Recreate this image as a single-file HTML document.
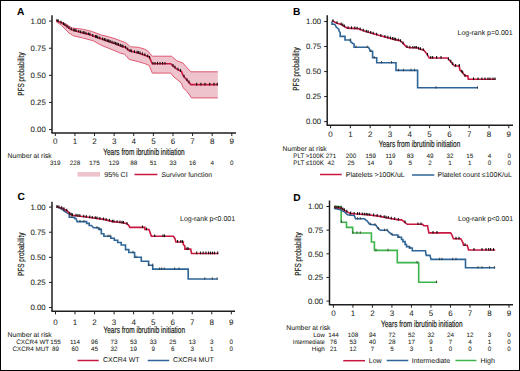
<!DOCTYPE html><html><head><meta charset="utf-8"><style>html,body{margin:0;padding:0;background:#fff;}svg{display:block;text-rendering:geometricPrecision;}</style></head><body>
<svg width="520" height="371" viewBox="0 0 520 371" font-family='"Liberation Sans", sans-serif'>
<rect x="0" y="0" width="520" height="371" fill="#fff"/>
<polygon points="56.20,20.30 64.40,23.20 72.10,28.00 83.70,29.40 91.30,31.30 101.70,35.10 108.50,36.70 115.20,38.80 120.60,40.80 125.80,42.70 130.40,46.70 138.40,47.30 144.20,49.00 147.70,50.80 152.30,56.20 171.50,56.20 176.90,60.80 183.00,63.10 186.20,66.90 190.80,71.80 217.80,71.80 217.80,97.90 191.50,97.90 187.00,91.40 183.00,87.70 181.50,83.10 173.80,76.90 170.80,73.10 152.30,73.10 149.20,65.40 144.20,63.40 138.40,61.70 129.20,59.40 124.60,54.20 120.60,53.30 115.20,50.90 108.50,48.20 101.70,45.50 93.30,40.80 83.70,38.20 74.00,36.00 69.20,33.20 61.50,25.30 56.20,21.70" fill="#eec3cb" stroke="none"/>
<polyline points="56.20,20.30 64.40,23.20 72.10,28.00 83.70,29.40 91.30,31.30 101.70,35.10 108.50,36.70 115.20,38.80 120.60,40.80 125.80,42.70 130.40,46.70 138.40,47.30 144.20,49.00 147.70,50.80 152.30,56.20 171.50,56.20 176.90,60.80 183.00,63.10 186.20,66.90 190.80,71.80 217.80,71.80" fill="none" stroke="#dc4a66" stroke-width="0.9" stroke-linejoin="miter"/>
<polyline points="56.20,21.70 61.50,25.30 69.20,33.20 74.00,36.00 83.70,38.20 93.30,40.80 101.70,45.50 108.50,48.20 115.20,50.90 120.60,53.30 124.60,54.20 129.20,59.40 138.40,61.70 144.20,63.40 149.20,65.40 152.30,73.10 170.80,73.10 173.80,76.90 181.50,83.10 183.00,87.70 187.00,91.40 191.50,97.90 217.80,97.90" fill="none" stroke="#dc4a66" stroke-width="0.9" stroke-linejoin="miter"/>
<polyline points="56.20,20.40 61.90,23.10 65.40,25.40 70.00,28.90 72.30,30.00 80.40,32.30 89.60,34.60 95.00,36.70 101.70,39.00 108.50,41.40 115.20,43.70 122.00,46.40 125.00,47.10 129.20,50.80 136.10,52.50 140.00,53.40 149.20,56.90 152.30,63.80 170.80,63.80 172.30,65.40 176.90,69.20 181.50,71.50 183.00,75.40 186.20,79.20 190.80,84.60 217.70,84.60" fill="none" stroke="#c8163f" stroke-width="1.6" stroke-linejoin="miter"/>
<line x1="57.00" y1="18.88" x2="57.00" y2="21.58" stroke="#111" stroke-width="1.1"/>
<line x1="58.27" y1="19.48" x2="58.27" y2="22.18" stroke="#111" stroke-width="1.1"/>
<line x1="60.96" y1="20.76" x2="60.96" y2="23.46" stroke="#111" stroke-width="1.1"/>
<line x1="63.49" y1="22.25" x2="63.49" y2="24.95" stroke="#111" stroke-width="1.1"/>
<line x1="65.00" y1="23.24" x2="65.00" y2="25.94" stroke="#111" stroke-width="1.1"/>
<line x1="66.99" y1="24.71" x2="66.99" y2="27.41" stroke="#111" stroke-width="1.1"/>
<line x1="68.89" y1="26.16" x2="68.89" y2="28.86" stroke="#111" stroke-width="1.1"/>
<line x1="71.19" y1="27.57" x2="71.19" y2="30.27" stroke="#111" stroke-width="1.1"/>
<line x1="73.77" y1="28.52" x2="73.77" y2="31.22" stroke="#111" stroke-width="1.1"/>
<line x1="74.96" y1="28.86" x2="74.96" y2="31.56" stroke="#111" stroke-width="1.1"/>
<line x1="76.02" y1="29.16" x2="76.02" y2="31.86" stroke="#111" stroke-width="1.1"/>
<line x1="78.69" y1="29.91" x2="78.69" y2="32.61" stroke="#111" stroke-width="1.1"/>
<line x1="80.55" y1="30.44" x2="80.55" y2="33.14" stroke="#111" stroke-width="1.1"/>
<line x1="83.08" y1="31.07" x2="83.08" y2="33.77" stroke="#111" stroke-width="1.1"/>
<line x1="84.08" y1="31.32" x2="84.08" y2="34.02" stroke="#111" stroke-width="1.1"/>
<line x1="85.97" y1="31.79" x2="85.97" y2="34.49" stroke="#111" stroke-width="1.1"/>
<line x1="88.42" y1="32.40" x2="88.42" y2="35.10" stroke="#111" stroke-width="1.1"/>
<line x1="89.87" y1="32.81" x2="89.87" y2="35.51" stroke="#111" stroke-width="1.1"/>
<line x1="92.76" y1="33.93" x2="92.76" y2="36.63" stroke="#111" stroke-width="1.1"/>
<line x1="95.57" y1="34.99" x2="95.57" y2="37.69" stroke="#111" stroke-width="1.1"/>
<line x1="96.63" y1="35.36" x2="96.63" y2="38.06" stroke="#111" stroke-width="1.1"/>
<line x1="97.68" y1="35.72" x2="97.68" y2="38.42" stroke="#111" stroke-width="1.1"/>
<line x1="99.76" y1="36.43" x2="99.76" y2="39.13" stroke="#111" stroke-width="1.1"/>
<line x1="102.64" y1="37.43" x2="102.64" y2="40.13" stroke="#111" stroke-width="1.1"/>
<line x1="104.40" y1="38.05" x2="104.40" y2="40.75" stroke="#111" stroke-width="1.1"/>
<line x1="105.84" y1="38.56" x2="105.84" y2="41.26" stroke="#111" stroke-width="1.1"/>
<line x1="107.68" y1="39.21" x2="107.68" y2="41.91" stroke="#111" stroke-width="1.1"/>
<line x1="108.74" y1="39.58" x2="108.74" y2="42.28" stroke="#111" stroke-width="1.1"/>
<line x1="110.18" y1="40.08" x2="110.18" y2="42.78" stroke="#111" stroke-width="1.1"/>
<line x1="112.06" y1="40.72" x2="112.06" y2="43.42" stroke="#111" stroke-width="1.1"/>
<line x1="114.05" y1="41.40" x2="114.05" y2="44.10" stroke="#111" stroke-width="1.1"/>
<line x1="115.51" y1="41.93" x2="115.51" y2="44.63" stroke="#111" stroke-width="1.1"/>
<line x1="116.98" y1="42.51" x2="116.98" y2="45.21" stroke="#111" stroke-width="1.1"/>
<line x1="118.41" y1="43.08" x2="118.41" y2="45.78" stroke="#111" stroke-width="1.1"/>
<line x1="120.33" y1="43.84" x2="120.33" y2="46.54" stroke="#111" stroke-width="1.1"/>
<line x1="121.91" y1="44.47" x2="121.91" y2="47.17" stroke="#111" stroke-width="1.1"/>
<line x1="122.96" y1="44.72" x2="122.96" y2="47.42" stroke="#111" stroke-width="1.1"/>
<line x1="125.63" y1="45.76" x2="125.63" y2="48.46" stroke="#111" stroke-width="1.1"/>
<line x1="127.74" y1="47.62" x2="127.74" y2="50.32" stroke="#111" stroke-width="1.1"/>
<line x1="130.03" y1="49.10" x2="130.03" y2="51.80" stroke="#111" stroke-width="1.1"/>
<line x1="131.40" y1="49.44" x2="131.40" y2="52.14" stroke="#111" stroke-width="1.1"/>
<line x1="134.39" y1="50.18" x2="134.39" y2="52.88" stroke="#111" stroke-width="1.1"/>
<line x1="137.11" y1="50.83" x2="137.11" y2="53.53" stroke="#111" stroke-width="1.1"/>
<line x1="138.35" y1="51.12" x2="138.35" y2="53.82" stroke="#111" stroke-width="1.1"/>
<line x1="140.01" y1="51.50" x2="140.01" y2="54.20" stroke="#111" stroke-width="1.1"/>
<line x1="142.46" y1="52.43" x2="142.46" y2="55.13" stroke="#111" stroke-width="1.1"/>
<line x1="144.88" y1="53.36" x2="144.88" y2="56.06" stroke="#111" stroke-width="1.1"/>
<line x1="147.75" y1="54.45" x2="147.75" y2="57.15" stroke="#111" stroke-width="1.1"/>
<line x1="149.59" y1="55.88" x2="149.59" y2="58.58" stroke="#111" stroke-width="1.1"/>
<line x1="153.00" y1="61.90" x2="153.00" y2="64.60" stroke="#111" stroke-width="1.1"/>
<line x1="155.00" y1="61.90" x2="155.00" y2="64.60" stroke="#111" stroke-width="1.1"/>
<line x1="157.50" y1="61.90" x2="157.50" y2="64.60" stroke="#111" stroke-width="1.1"/>
<line x1="160.00" y1="61.90" x2="160.00" y2="64.60" stroke="#111" stroke-width="1.1"/>
<line x1="162.50" y1="61.90" x2="162.50" y2="64.60" stroke="#111" stroke-width="1.1"/>
<line x1="165.00" y1="61.90" x2="165.00" y2="64.60" stroke="#111" stroke-width="1.1"/>
<line x1="173.00" y1="64.08" x2="173.00" y2="66.78" stroke="#111" stroke-width="1.1"/>
<line x1="175.00" y1="65.73" x2="175.00" y2="68.43" stroke="#111" stroke-width="1.1"/>
<line x1="178.00" y1="67.85" x2="178.00" y2="70.55" stroke="#111" stroke-width="1.1"/>
<line x1="180.50" y1="69.10" x2="180.50" y2="71.80" stroke="#111" stroke-width="1.1"/>
<line x1="184.00" y1="74.69" x2="184.00" y2="77.39" stroke="#111" stroke-width="1.1"/>
<line x1="187.00" y1="78.24" x2="187.00" y2="80.94" stroke="#111" stroke-width="1.1"/>
<line x1="189.00" y1="80.59" x2="189.00" y2="83.29" stroke="#111" stroke-width="1.1"/>
<line x1="196.60" y1="82.70" x2="196.60" y2="85.40" stroke="#111" stroke-width="1.1"/>
<line x1="200.90" y1="82.70" x2="200.90" y2="85.40" stroke="#111" stroke-width="1.1"/>
<line x1="205.00" y1="82.70" x2="205.00" y2="85.40" stroke="#111" stroke-width="1.1"/>
<line x1="209.70" y1="82.70" x2="209.70" y2="85.40" stroke="#111" stroke-width="1.1"/>
<line x1="214.00" y1="82.70" x2="214.00" y2="85.40" stroke="#111" stroke-width="1.1"/>
<line x1="217.30" y1="82.70" x2="217.30" y2="85.40" stroke="#111" stroke-width="1.1"/>
<text x="17.00" y="15.10" font-size="10.2" text-anchor="start" font-weight="bold" fill="#000" stroke="#000" stroke-width="0.05" >A</text>
<line x1="52" y1="15.2" x2="52" y2="133" stroke="#1e1e1e" stroke-width="1.5"/>
<line x1="51.4" y1="133" x2="236" y2="133" stroke="#1e1e1e" stroke-width="1.5"/>
<line x1="49" y1="21.10" x2="52" y2="21.10" stroke="#1e1e1e" stroke-width="1"/>
<text x="45.80" y="23.90" font-size="7.8" text-anchor="end" font-weight="normal" fill="#231f20" stroke="#231f20" stroke-width="0.05" >1.00</text>
<line x1="49" y1="48.23" x2="52" y2="48.23" stroke="#1e1e1e" stroke-width="1"/>
<text x="45.80" y="51.02" font-size="7.8" text-anchor="end" font-weight="normal" fill="#231f20" stroke="#231f20" stroke-width="0.05" >0.75</text>
<line x1="49" y1="75.35" x2="52" y2="75.35" stroke="#1e1e1e" stroke-width="1"/>
<text x="45.80" y="78.15" font-size="7.8" text-anchor="end" font-weight="normal" fill="#231f20" stroke="#231f20" stroke-width="0.05" >0.50</text>
<line x1="49" y1="102.47" x2="52" y2="102.47" stroke="#1e1e1e" stroke-width="1"/>
<text x="45.80" y="105.27" font-size="7.8" text-anchor="end" font-weight="normal" fill="#231f20" stroke="#231f20" stroke-width="0.05" >0.25</text>
<line x1="49" y1="129.60" x2="52" y2="129.60" stroke="#1e1e1e" stroke-width="1"/>
<text x="45.80" y="132.40" font-size="7.8" text-anchor="end" font-weight="normal" fill="#231f20" stroke="#231f20" stroke-width="0.05" >0.00</text>
<line x1="55.30" y1="133" x2="55.30" y2="136" stroke="#1e1e1e" stroke-width="1"/>
<text x="55.30" y="144.30" font-size="8.0" text-anchor="middle" font-weight="normal" fill="#231f20" stroke="#231f20" stroke-width="0.05" >0</text>
<line x1="74.91" y1="133" x2="74.91" y2="136" stroke="#1e1e1e" stroke-width="1"/>
<text x="74.91" y="144.30" font-size="8.0" text-anchor="middle" font-weight="normal" fill="#231f20" stroke="#231f20" stroke-width="0.05" >1</text>
<line x1="94.52" y1="133" x2="94.52" y2="136" stroke="#1e1e1e" stroke-width="1"/>
<text x="94.52" y="144.30" font-size="8.0" text-anchor="middle" font-weight="normal" fill="#231f20" stroke="#231f20" stroke-width="0.05" >2</text>
<line x1="114.13" y1="133" x2="114.13" y2="136" stroke="#1e1e1e" stroke-width="1"/>
<text x="114.13" y="144.30" font-size="8.0" text-anchor="middle" font-weight="normal" fill="#231f20" stroke="#231f20" stroke-width="0.05" >3</text>
<line x1="133.74" y1="133" x2="133.74" y2="136" stroke="#1e1e1e" stroke-width="1"/>
<text x="133.74" y="144.30" font-size="8.0" text-anchor="middle" font-weight="normal" fill="#231f20" stroke="#231f20" stroke-width="0.05" >4</text>
<line x1="153.36" y1="133" x2="153.36" y2="136" stroke="#1e1e1e" stroke-width="1"/>
<text x="153.36" y="144.30" font-size="8.0" text-anchor="middle" font-weight="normal" fill="#231f20" stroke="#231f20" stroke-width="0.05" >5</text>
<line x1="172.97" y1="133" x2="172.97" y2="136" stroke="#1e1e1e" stroke-width="1"/>
<text x="172.97" y="144.30" font-size="8.0" text-anchor="middle" font-weight="normal" fill="#231f20" stroke="#231f20" stroke-width="0.05" >6</text>
<line x1="192.58" y1="133" x2="192.58" y2="136" stroke="#1e1e1e" stroke-width="1"/>
<text x="192.58" y="144.30" font-size="8.0" text-anchor="middle" font-weight="normal" fill="#231f20" stroke="#231f20" stroke-width="0.05" >7</text>
<line x1="212.19" y1="133" x2="212.19" y2="136" stroke="#1e1e1e" stroke-width="1"/>
<text x="212.19" y="144.30" font-size="8.0" text-anchor="middle" font-weight="normal" fill="#231f20" stroke="#231f20" stroke-width="0.05" >8</text>
<line x1="231.80" y1="133" x2="231.80" y2="136" stroke="#1e1e1e" stroke-width="1"/>
<text x="231.80" y="144.30" font-size="8.0" text-anchor="middle" font-weight="normal" fill="#231f20" stroke="#231f20" stroke-width="0.05" >9</text>
<text transform="translate(23.8,74) rotate(-90)" x="0" y="0" font-size="8.8" text-anchor="middle" fill="#231f20" stroke="#231f20" stroke-width="0.2" textLength="43.5" lengthAdjust="spacingAndGlyphs">PFS probability</text>
<text x="103.2" y="155.1" font-size="9.2" font-weight="normal" fill="#231f20" stroke="#231f20" stroke-width="0.22" textLength="81.5" lengthAdjust="spacingAndGlyphs">Years from ibrutinib initiation</text>
<text x="7.50" y="158.10" font-size="6.8" text-anchor="start" font-weight="normal" fill="#231f20" stroke="#231f20" stroke-width="0.05" >Number at risk</text>
<text x="55.30" y="165.20" font-size="6.3" text-anchor="middle" font-weight="normal" fill="#231f20" stroke="#231f20" stroke-width="0.05" >319</text>
<text x="74.91" y="165.20" font-size="6.3" text-anchor="middle" font-weight="normal" fill="#231f20" stroke="#231f20" stroke-width="0.05" >228</text>
<text x="94.52" y="165.20" font-size="6.3" text-anchor="middle" font-weight="normal" fill="#231f20" stroke="#231f20" stroke-width="0.05" >175</text>
<text x="114.13" y="165.20" font-size="6.3" text-anchor="middle" font-weight="normal" fill="#231f20" stroke="#231f20" stroke-width="0.05" >129</text>
<text x="133.74" y="165.20" font-size="6.3" text-anchor="middle" font-weight="normal" fill="#231f20" stroke="#231f20" stroke-width="0.05" >88</text>
<text x="153.36" y="165.20" font-size="6.3" text-anchor="middle" font-weight="normal" fill="#231f20" stroke="#231f20" stroke-width="0.05" >51</text>
<text x="172.97" y="165.20" font-size="6.3" text-anchor="middle" font-weight="normal" fill="#231f20" stroke="#231f20" stroke-width="0.05" >33</text>
<text x="192.58" y="165.20" font-size="6.3" text-anchor="middle" font-weight="normal" fill="#231f20" stroke="#231f20" stroke-width="0.05" >16</text>
<text x="212.19" y="165.20" font-size="6.3" text-anchor="middle" font-weight="normal" fill="#231f20" stroke="#231f20" stroke-width="0.05" >4</text>
<text x="231.80" y="165.20" font-size="6.3" text-anchor="middle" font-weight="normal" fill="#231f20" stroke="#231f20" stroke-width="0.05" >0</text>
<rect x="77.5" y="172" width="22.5" height="4.6" fill="#eec3cb"/>
<text x="104.20" y="176.90" font-size="7.2" text-anchor="start" font-weight="normal" fill="#231f20" stroke="#231f20" stroke-width="0.05" >95% CI</text>
<line x1="134.5" y1="174.5" x2="157.4" y2="174.5" stroke="#c8163f" stroke-width="1.5"/>
<text x="161.40" y="176.90" font-size="6.8" text-anchor="start" font-weight="normal" fill="#231f20" stroke="#231f20" stroke-width="0.05" >Survivor function</text>
<polyline points="332.00,21.50 332.00,24.20 334.70,24.20 336.20,26.90 337.30,28.00 338.90,29.30 338.90,30.60 340.20,32.90 340.20,36.40 345.00,36.40 345.00,40.00 350.50,40.00 350.50,41.60 352.50,43.20 354.10,43.90 354.10,47.30 368.50,47.30 369.50,49.00 370.20,51.20 372.60,51.20 372.60,57.80 376.70,57.80 376.70,62.70 396.00,62.70 396.00,70.40 417.60,70.40 417.60,87.80 478.00,87.80" fill="none" stroke="#2e6598" stroke-width="1.6" stroke-linejoin="miter"/>
<polyline points="331.90,20.60 336.90,23.20 341.40,24.60 347.30,28.10 357.70,28.60 365.10,31.30 378.80,35.30 395.00,39.60 399.80,40.60 401.70,42.00 404.10,44.40 406.50,47.10 410.40,47.80 417.10,47.80 419.00,48.80 423.80,50.20 426.70,53.60 429.20,58.00 448.00,58.00 448.50,59.40 449.90,60.80 451.30,62.30 452.70,64.20 454.60,66.00 459.30,66.00 459.80,69.80 461.20,71.20 462.60,72.60 464.00,74.50 465.00,75.90 467.80,75.90 468.30,79.30 495.50,79.30" fill="none" stroke="#c8163f" stroke-width="1.6" stroke-linejoin="miter"/>
<line x1="333.00" y1="19.27" x2="333.00" y2="21.97" stroke="#111" stroke-width="1.1"/>
<line x1="337.08" y1="21.36" x2="337.08" y2="24.06" stroke="#111" stroke-width="1.1"/>
<line x1="341.13" y1="22.62" x2="341.13" y2="25.32" stroke="#111" stroke-width="1.1"/>
<line x1="342.69" y1="23.46" x2="342.69" y2="26.16" stroke="#111" stroke-width="1.1"/>
<line x1="344.33" y1="24.44" x2="344.33" y2="27.14" stroke="#111" stroke-width="1.1"/>
<line x1="348.07" y1="26.24" x2="348.07" y2="28.94" stroke="#111" stroke-width="1.1"/>
<line x1="351.53" y1="26.40" x2="351.53" y2="29.10" stroke="#111" stroke-width="1.1"/>
<line x1="354.80" y1="26.56" x2="354.80" y2="29.26" stroke="#111" stroke-width="1.1"/>
<line x1="357.06" y1="26.67" x2="357.06" y2="29.37" stroke="#111" stroke-width="1.1"/>
<line x1="360.16" y1="27.60" x2="360.16" y2="30.30" stroke="#111" stroke-width="1.1"/>
<line x1="363.26" y1="28.73" x2="363.26" y2="31.43" stroke="#111" stroke-width="1.1"/>
<line x1="366.29" y1="29.75" x2="366.29" y2="32.45" stroke="#111" stroke-width="1.1"/>
<line x1="368.13" y1="30.29" x2="368.13" y2="32.99" stroke="#111" stroke-width="1.1"/>
<line x1="370.74" y1="31.05" x2="370.74" y2="33.75" stroke="#111" stroke-width="1.1"/>
<line x1="373.24" y1="31.78" x2="373.24" y2="34.48" stroke="#111" stroke-width="1.1"/>
<line x1="376.66" y1="32.78" x2="376.66" y2="35.48" stroke="#111" stroke-width="1.1"/>
<line x1="380.85" y1="33.94" x2="380.85" y2="36.64" stroke="#111" stroke-width="1.1"/>
<line x1="384.91" y1="35.02" x2="384.91" y2="37.72" stroke="#111" stroke-width="1.1"/>
<line x1="387.83" y1="35.80" x2="387.83" y2="38.50" stroke="#111" stroke-width="1.1"/>
<line x1="390.48" y1="36.50" x2="390.48" y2="39.20" stroke="#111" stroke-width="1.1"/>
<line x1="392.63" y1="37.07" x2="392.63" y2="39.77" stroke="#111" stroke-width="1.1"/>
<line x1="394.13" y1="37.47" x2="394.13" y2="40.17" stroke="#111" stroke-width="1.1"/>
<line x1="395.61" y1="37.83" x2="395.61" y2="40.53" stroke="#111" stroke-width="1.1"/>
<line x1="398.31" y1="38.39" x2="398.31" y2="41.09" stroke="#111" stroke-width="1.1"/>
<line x1="400.60" y1="39.29" x2="400.60" y2="41.99" stroke="#111" stroke-width="1.1"/>
<line x1="403.06" y1="41.46" x2="403.06" y2="44.16" stroke="#111" stroke-width="1.1"/>
<line x1="406.96" y1="45.28" x2="406.96" y2="47.98" stroke="#111" stroke-width="1.1"/>
<line x1="409.83" y1="45.80" x2="409.83" y2="48.50" stroke="#111" stroke-width="1.1"/>
<line x1="412.80" y1="45.90" x2="412.80" y2="48.60" stroke="#111" stroke-width="1.1"/>
<line x1="414.86" y1="45.90" x2="414.86" y2="48.60" stroke="#111" stroke-width="1.1"/>
<line x1="416.33" y1="45.90" x2="416.33" y2="48.60" stroke="#111" stroke-width="1.1"/>
<line x1="418.64" y1="46.71" x2="418.64" y2="49.41" stroke="#111" stroke-width="1.1"/>
<line x1="420.42" y1="47.31" x2="420.42" y2="50.01" stroke="#111" stroke-width="1.1"/>
<line x1="423.25" y1="48.14" x2="423.25" y2="50.84" stroke="#111" stroke-width="1.1"/>
<line x1="427.45" y1="53.02" x2="427.45" y2="55.72" stroke="#111" stroke-width="1.1"/>
<line x1="430.74" y1="56.10" x2="430.74" y2="58.80" stroke="#111" stroke-width="1.1"/>
<line x1="432.65" y1="56.10" x2="432.65" y2="58.80" stroke="#111" stroke-width="1.1"/>
<line x1="436.55" y1="56.10" x2="436.55" y2="58.80" stroke="#111" stroke-width="1.1"/>
<line x1="441.00" y1="56.10" x2="441.00" y2="58.80" stroke="#111" stroke-width="1.1"/>
<line x1="448.50" y1="57.50" x2="448.50" y2="60.20" stroke="#111" stroke-width="1.1"/>
<line x1="450.80" y1="59.86" x2="450.80" y2="62.56" stroke="#111" stroke-width="1.1"/>
<line x1="452.70" y1="62.30" x2="452.70" y2="65.00" stroke="#111" stroke-width="1.1"/>
<line x1="455.60" y1="64.10" x2="455.60" y2="66.80" stroke="#111" stroke-width="1.1"/>
<line x1="459.30" y1="64.10" x2="459.30" y2="66.80" stroke="#111" stroke-width="1.1"/>
<line x1="461.70" y1="69.80" x2="461.70" y2="72.50" stroke="#111" stroke-width="1.1"/>
<line x1="462.60" y1="70.70" x2="462.60" y2="73.40" stroke="#111" stroke-width="1.1"/>
<line x1="465.00" y1="74.00" x2="465.00" y2="76.70" stroke="#111" stroke-width="1.1"/>
<line x1="473.50" y1="77.40" x2="473.50" y2="80.10" stroke="#111" stroke-width="1.1"/>
<line x1="478.00" y1="77.40" x2="478.00" y2="80.10" stroke="#111" stroke-width="1.1"/>
<line x1="482.00" y1="77.40" x2="482.00" y2="80.10" stroke="#111" stroke-width="1.1"/>
<line x1="485.00" y1="77.40" x2="485.00" y2="80.10" stroke="#111" stroke-width="1.1"/>
<line x1="488.00" y1="77.40" x2="488.00" y2="80.10" stroke="#111" stroke-width="1.1"/>
<line x1="490.00" y1="77.40" x2="490.00" y2="80.10" stroke="#111" stroke-width="1.1"/>
<line x1="493.00" y1="77.40" x2="493.00" y2="80.10" stroke="#111" stroke-width="1.1"/>
<line x1="495.00" y1="77.40" x2="495.00" y2="80.10" stroke="#111" stroke-width="1.1"/>
<line x1="350.30" y1="38.30" x2="350.30" y2="40.80" stroke="#333" stroke-width="0.8"/>
<line x1="356.00" y1="45.60" x2="356.00" y2="48.10" stroke="#333" stroke-width="0.8"/>
<line x1="367.30" y1="45.60" x2="367.30" y2="48.10" stroke="#333" stroke-width="0.8"/>
<line x1="371.00" y1="49.50" x2="371.00" y2="52.00" stroke="#333" stroke-width="0.8"/>
<line x1="374.20" y1="56.10" x2="374.20" y2="58.60" stroke="#333" stroke-width="0.8"/>
<line x1="381.50" y1="61.00" x2="381.50" y2="63.50" stroke="#333" stroke-width="0.8"/>
<line x1="391.50" y1="61.00" x2="391.50" y2="63.50" stroke="#333" stroke-width="0.8"/>
<line x1="398.50" y1="68.70" x2="398.50" y2="71.20" stroke="#333" stroke-width="0.8"/>
<line x1="403.50" y1="68.70" x2="403.50" y2="71.20" stroke="#333" stroke-width="0.8"/>
<line x1="411.00" y1="68.70" x2="411.00" y2="71.20" stroke="#333" stroke-width="0.8"/>
<line x1="414.50" y1="68.70" x2="414.50" y2="71.20" stroke="#333" stroke-width="0.8"/>
<line x1="436.00" y1="86.10" x2="436.00" y2="88.60" stroke="#333" stroke-width="0.8"/>
<line x1="477.50" y1="86.10" x2="477.50" y2="88.60" stroke="#333" stroke-width="0.8"/>
<text x="293.00" y="15.20" font-size="10.2" text-anchor="start" font-weight="bold" fill="#000" stroke="#000" stroke-width="0.05" >B</text>
<line x1="327.2" y1="15.2" x2="327.2" y2="125.2" stroke="#1e1e1e" stroke-width="1.5"/>
<line x1="326.59999999999997" y1="125.2" x2="513" y2="125.2" stroke="#1e1e1e" stroke-width="1.5"/>
<line x1="324.2" y1="21.50" x2="327.2" y2="21.50" stroke="#1e1e1e" stroke-width="1"/>
<text x="321.10" y="24.30" font-size="7.8" text-anchor="end" font-weight="normal" fill="#231f20" stroke="#231f20" stroke-width="0.05" >1.00</text>
<line x1="324.2" y1="46.52" x2="327.2" y2="46.52" stroke="#1e1e1e" stroke-width="1"/>
<text x="321.10" y="49.32" font-size="7.8" text-anchor="end" font-weight="normal" fill="#231f20" stroke="#231f20" stroke-width="0.05" >0.75</text>
<line x1="324.2" y1="71.55" x2="327.2" y2="71.55" stroke="#1e1e1e" stroke-width="1"/>
<text x="321.10" y="74.35" font-size="7.8" text-anchor="end" font-weight="normal" fill="#231f20" stroke="#231f20" stroke-width="0.05" >0.50</text>
<line x1="324.2" y1="96.57" x2="327.2" y2="96.57" stroke="#1e1e1e" stroke-width="1"/>
<text x="321.10" y="99.37" font-size="7.8" text-anchor="end" font-weight="normal" fill="#231f20" stroke="#231f20" stroke-width="0.05" >0.25</text>
<line x1="324.2" y1="121.60" x2="327.2" y2="121.60" stroke="#1e1e1e" stroke-width="1"/>
<text x="321.10" y="124.40" font-size="7.8" text-anchor="end" font-weight="normal" fill="#231f20" stroke="#231f20" stroke-width="0.05" >0.00</text>
<line x1="330.60" y1="125.2" x2="330.60" y2="128.2" stroke="#1e1e1e" stroke-width="1"/>
<text x="330.60" y="136.50" font-size="8.0" text-anchor="middle" font-weight="normal" fill="#231f20" stroke="#231f20" stroke-width="0.05" >0</text>
<line x1="350.40" y1="125.2" x2="350.40" y2="128.2" stroke="#1e1e1e" stroke-width="1"/>
<text x="350.40" y="136.50" font-size="8.0" text-anchor="middle" font-weight="normal" fill="#231f20" stroke="#231f20" stroke-width="0.05" >1</text>
<line x1="370.20" y1="125.2" x2="370.20" y2="128.2" stroke="#1e1e1e" stroke-width="1"/>
<text x="370.20" y="136.50" font-size="8.0" text-anchor="middle" font-weight="normal" fill="#231f20" stroke="#231f20" stroke-width="0.05" >2</text>
<line x1="390.00" y1="125.2" x2="390.00" y2="128.2" stroke="#1e1e1e" stroke-width="1"/>
<text x="390.00" y="136.50" font-size="8.0" text-anchor="middle" font-weight="normal" fill="#231f20" stroke="#231f20" stroke-width="0.05" >3</text>
<line x1="409.80" y1="125.2" x2="409.80" y2="128.2" stroke="#1e1e1e" stroke-width="1"/>
<text x="409.80" y="136.50" font-size="8.0" text-anchor="middle" font-weight="normal" fill="#231f20" stroke="#231f20" stroke-width="0.05" >4</text>
<line x1="429.60" y1="125.2" x2="429.60" y2="128.2" stroke="#1e1e1e" stroke-width="1"/>
<text x="429.60" y="136.50" font-size="8.0" text-anchor="middle" font-weight="normal" fill="#231f20" stroke="#231f20" stroke-width="0.05" >5</text>
<line x1="449.40" y1="125.2" x2="449.40" y2="128.2" stroke="#1e1e1e" stroke-width="1"/>
<text x="449.40" y="136.50" font-size="8.0" text-anchor="middle" font-weight="normal" fill="#231f20" stroke="#231f20" stroke-width="0.05" >6</text>
<line x1="469.20" y1="125.2" x2="469.20" y2="128.2" stroke="#1e1e1e" stroke-width="1"/>
<text x="469.20" y="136.50" font-size="8.0" text-anchor="middle" font-weight="normal" fill="#231f20" stroke="#231f20" stroke-width="0.05" >7</text>
<line x1="489.00" y1="125.2" x2="489.00" y2="128.2" stroke="#1e1e1e" stroke-width="1"/>
<text x="489.00" y="136.50" font-size="8.0" text-anchor="middle" font-weight="normal" fill="#231f20" stroke="#231f20" stroke-width="0.05" >8</text>
<line x1="508.80" y1="125.2" x2="508.80" y2="128.2" stroke="#1e1e1e" stroke-width="1"/>
<text x="508.80" y="136.50" font-size="8.0" text-anchor="middle" font-weight="normal" fill="#231f20" stroke="#231f20" stroke-width="0.05" >9</text>
<text transform="translate(299.2,69) rotate(-90)" x="0" y="0" font-size="8.8" text-anchor="middle" fill="#231f20" stroke="#231f20" stroke-width="0.2" textLength="43.5" lengthAdjust="spacingAndGlyphs">PFS probability</text>
<text x="457.50" y="35.20" font-size="7" text-anchor="start" font-weight="normal" fill="#231f20" stroke="#231f20" stroke-width="0.05" >Log-rank p=0.001</text>
<text x="378.75" y="147.3" font-size="9.2" font-weight="normal" fill="#231f20" stroke="#231f20" stroke-width="0.22" textLength="81.5" lengthAdjust="spacingAndGlyphs">Years from ibrutinib initiation</text>
<text x="282.50" y="151.00" font-size="6.8" text-anchor="start" font-weight="normal" fill="#231f20" stroke="#231f20" stroke-width="0.05" >Number at risk</text>
<text x="323.80" y="158.30" font-size="6.4" text-anchor="end" font-weight="normal" fill="#231f20" stroke="#231f20" stroke-width="0.05" textLength="30.5" lengthAdjust="spacingAndGlyphs">PLT &gt;100K</text>
<text x="323.80" y="165.30" font-size="6.4" text-anchor="end" font-weight="normal" fill="#231f20" stroke="#231f20" stroke-width="0.05" textLength="30.5" lengthAdjust="spacingAndGlyphs">PLT ≤100K</text>
<text x="331.10" y="158.30" font-size="6.3" text-anchor="middle" font-weight="normal" fill="#231f20" stroke="#231f20" stroke-width="0.05" >271</text>
<text x="350.90" y="158.30" font-size="6.3" text-anchor="middle" font-weight="normal" fill="#231f20" stroke="#231f20" stroke-width="0.05" >200</text>
<text x="370.70" y="158.30" font-size="6.3" text-anchor="middle" font-weight="normal" fill="#231f20" stroke="#231f20" stroke-width="0.05" >159</text>
<text x="390.50" y="158.30" font-size="6.3" text-anchor="middle" font-weight="normal" fill="#231f20" stroke="#231f20" stroke-width="0.05" >119</text>
<text x="410.30" y="158.30" font-size="6.3" text-anchor="middle" font-weight="normal" fill="#231f20" stroke="#231f20" stroke-width="0.05" >83</text>
<text x="430.10" y="158.30" font-size="6.3" text-anchor="middle" font-weight="normal" fill="#231f20" stroke="#231f20" stroke-width="0.05" >49</text>
<text x="449.90" y="158.30" font-size="6.3" text-anchor="middle" font-weight="normal" fill="#231f20" stroke="#231f20" stroke-width="0.05" >32</text>
<text x="469.70" y="158.30" font-size="6.3" text-anchor="middle" font-weight="normal" fill="#231f20" stroke="#231f20" stroke-width="0.05" >15</text>
<text x="489.50" y="158.30" font-size="6.3" text-anchor="middle" font-weight="normal" fill="#231f20" stroke="#231f20" stroke-width="0.05" >4</text>
<text x="509.30" y="158.30" font-size="6.3" text-anchor="middle" font-weight="normal" fill="#231f20" stroke="#231f20" stroke-width="0.05" >0</text>
<text x="331.10" y="165.30" font-size="6.3" text-anchor="middle" font-weight="normal" fill="#231f20" stroke="#231f20" stroke-width="0.05" >42</text>
<text x="350.90" y="165.30" font-size="6.3" text-anchor="middle" font-weight="normal" fill="#231f20" stroke="#231f20" stroke-width="0.05" >25</text>
<text x="370.70" y="165.30" font-size="6.3" text-anchor="middle" font-weight="normal" fill="#231f20" stroke="#231f20" stroke-width="0.05" >14</text>
<text x="390.50" y="165.30" font-size="6.3" text-anchor="middle" font-weight="normal" fill="#231f20" stroke="#231f20" stroke-width="0.05" >9</text>
<text x="410.30" y="165.30" font-size="6.3" text-anchor="middle" font-weight="normal" fill="#231f20" stroke="#231f20" stroke-width="0.05" >5</text>
<text x="430.10" y="165.30" font-size="6.3" text-anchor="middle" font-weight="normal" fill="#231f20" stroke="#231f20" stroke-width="0.05" >2</text>
<text x="449.90" y="165.30" font-size="6.3" text-anchor="middle" font-weight="normal" fill="#231f20" stroke="#231f20" stroke-width="0.05" >1</text>
<text x="469.70" y="165.30" font-size="6.3" text-anchor="middle" font-weight="normal" fill="#231f20" stroke="#231f20" stroke-width="0.05" >1</text>
<text x="489.50" y="165.30" font-size="6.3" text-anchor="middle" font-weight="normal" fill="#231f20" stroke="#231f20" stroke-width="0.05" >0</text>
<text x="509.30" y="165.30" font-size="6.3" text-anchor="middle" font-weight="normal" fill="#231f20" stroke="#231f20" stroke-width="0.05" >0</text>
<line x1="320" y1="174.5" x2="341.75" y2="174.5" stroke="#c8163f" stroke-width="1.5"/>
<text x="345.75" y="177.00" font-size="7" text-anchor="start" font-weight="normal" fill="#231f20" stroke="#231f20" stroke-width="0.05" >Platelets &gt;100K/uL</text>
<line x1="412" y1="175" x2="434.25" y2="175" stroke="#2e6598" stroke-width="1.5"/>
<text x="437.50" y="177.00" font-size="7" text-anchor="start" font-weight="normal" fill="#231f20" stroke="#231f20" stroke-width="0.05" >Platelet count ≤100K/uL</text>
<polyline points="56.30,206.70 60.00,208.00 62.40,209.50 65.80,212.10 68.40,213.80 69.30,213.80 69.30,217.30 74.50,217.30 74.50,218.50 76.00,218.50 77.10,221.60 86.60,221.60 86.60,223.40 89.20,223.40 89.20,225.50 91.50,225.50 93.50,227.70 98.70,227.70 98.70,229.40 101.30,229.40 101.30,233.70 103.90,233.70 103.90,236.30 110.80,236.30 110.80,238.20 114.30,238.20 114.30,240.20 117.70,240.20 117.70,242.50 121.20,242.50 121.20,245.00 125.50,245.00 125.50,249.60 128.80,249.60 128.80,252.50 134.60,252.50 134.60,257.30 141.30,257.30 141.30,261.20 148.60,261.20 148.60,265.20 152.70,265.20 152.70,269.10 188.20,269.10 188.20,279.00 217.70,279.00" fill="none" stroke="#2e6598" stroke-width="1.6" stroke-linejoin="miter"/>
<polyline points="56.30,206.70 62.40,208.30 67.60,211.20 69.30,213.50 71.90,215.20 86.60,217.00 103.90,219.40 112.60,221.60 121.20,222.50 126.40,223.40 128.50,225.00 129.90,227.40 144.90,227.40 144.90,229.50 149.00,229.50 151.40,236.30 173.50,236.30 175.10,238.80 175.90,242.00 183.30,242.00 183.30,244.50 184.90,246.10 184.90,249.10 190.70,249.10 191.50,253.50 218.40,253.50" fill="none" stroke="#c8163f" stroke-width="1.6" stroke-linejoin="miter"/>
<line x1="57.00" y1="204.98" x2="57.00" y2="207.68" stroke="#111" stroke-width="1.1"/>
<line x1="58.92" y1="205.49" x2="58.92" y2="208.19" stroke="#111" stroke-width="1.1"/>
<line x1="61.63" y1="206.20" x2="61.63" y2="208.90" stroke="#111" stroke-width="1.1"/>
<line x1="63.90" y1="207.23" x2="63.90" y2="209.93" stroke="#111" stroke-width="1.1"/>
<line x1="66.77" y1="208.83" x2="66.77" y2="211.53" stroke="#111" stroke-width="1.1"/>
<line x1="69.69" y1="211.86" x2="69.69" y2="214.56" stroke="#111" stroke-width="1.1"/>
<line x1="71.16" y1="212.82" x2="71.16" y2="215.52" stroke="#111" stroke-width="1.1"/>
<line x1="72.50" y1="213.37" x2="72.50" y2="216.07" stroke="#111" stroke-width="1.1"/>
<line x1="75.97" y1="213.80" x2="75.97" y2="216.50" stroke="#111" stroke-width="1.1"/>
<line x1="77.95" y1="214.04" x2="77.95" y2="216.74" stroke="#111" stroke-width="1.1"/>
<line x1="79.86" y1="214.27" x2="79.86" y2="216.97" stroke="#111" stroke-width="1.1"/>
<line x1="83.75" y1="214.75" x2="83.75" y2="217.45" stroke="#111" stroke-width="1.1"/>
<line x1="86.27" y1="215.06" x2="86.27" y2="217.76" stroke="#111" stroke-width="1.1"/>
<line x1="89.74" y1="215.54" x2="89.74" y2="218.24" stroke="#111" stroke-width="1.1"/>
<line x1="92.28" y1="215.89" x2="92.28" y2="218.59" stroke="#111" stroke-width="1.1"/>
<line x1="95.24" y1="216.30" x2="95.24" y2="219.00" stroke="#111" stroke-width="1.1"/>
<line x1="96.94" y1="216.53" x2="96.94" y2="219.23" stroke="#111" stroke-width="1.1"/>
<line x1="99.89" y1="216.94" x2="99.89" y2="219.64" stroke="#111" stroke-width="1.1"/>
<line x1="103.44" y1="217.44" x2="103.44" y2="220.14" stroke="#111" stroke-width="1.1"/>
<line x1="106.10" y1="218.06" x2="106.10" y2="220.76" stroke="#111" stroke-width="1.1"/>
<line x1="109.33" y1="218.87" x2="109.33" y2="221.57" stroke="#111" stroke-width="1.1"/>
<line x1="112.38" y1="219.64" x2="112.38" y2="222.34" stroke="#111" stroke-width="1.1"/>
<line x1="113.84" y1="219.83" x2="113.84" y2="222.53" stroke="#111" stroke-width="1.1"/>
<line x1="117.11" y1="220.17" x2="117.11" y2="222.87" stroke="#111" stroke-width="1.1"/>
<line x1="119.95" y1="220.47" x2="119.95" y2="223.17" stroke="#111" stroke-width="1.1"/>
<line x1="122.03" y1="220.74" x2="122.03" y2="223.44" stroke="#111" stroke-width="1.1"/>
<line x1="123.42" y1="220.98" x2="123.42" y2="223.68" stroke="#111" stroke-width="1.1"/>
<line x1="126.97" y1="221.93" x2="126.97" y2="224.63" stroke="#111" stroke-width="1.1"/>
<line x1="142.50" y1="225.50" x2="142.50" y2="228.20" stroke="#111" stroke-width="1.1"/>
<line x1="146.50" y1="227.60" x2="146.50" y2="230.30" stroke="#111" stroke-width="1.1"/>
<line x1="154.70" y1="234.40" x2="154.70" y2="237.10" stroke="#111" stroke-width="1.1"/>
<line x1="163.00" y1="234.40" x2="163.00" y2="237.10" stroke="#111" stroke-width="1.1"/>
<line x1="164.50" y1="234.40" x2="164.50" y2="237.10" stroke="#111" stroke-width="1.1"/>
<line x1="177.60" y1="240.10" x2="177.60" y2="242.80" stroke="#111" stroke-width="1.1"/>
<line x1="180.80" y1="240.10" x2="180.80" y2="242.80" stroke="#111" stroke-width="1.1"/>
<line x1="182.50" y1="240.10" x2="182.50" y2="242.80" stroke="#111" stroke-width="1.1"/>
<line x1="187.00" y1="247.20" x2="187.00" y2="249.90" stroke="#111" stroke-width="1.1"/>
<line x1="188.10" y1="247.20" x2="188.10" y2="249.90" stroke="#111" stroke-width="1.1"/>
<line x1="196.70" y1="251.60" x2="196.70" y2="254.30" stroke="#111" stroke-width="1.1"/>
<line x1="200.50" y1="251.60" x2="200.50" y2="254.30" stroke="#111" stroke-width="1.1"/>
<line x1="203.20" y1="251.60" x2="203.20" y2="254.30" stroke="#111" stroke-width="1.1"/>
<line x1="205.90" y1="251.60" x2="205.90" y2="254.30" stroke="#111" stroke-width="1.1"/>
<line x1="208.60" y1="251.60" x2="208.60" y2="254.30" stroke="#111" stroke-width="1.1"/>
<line x1="210.50" y1="251.60" x2="210.50" y2="254.30" stroke="#111" stroke-width="1.1"/>
<line x1="212.50" y1="251.60" x2="212.50" y2="254.30" stroke="#111" stroke-width="1.1"/>
<line x1="214.50" y1="251.60" x2="214.50" y2="254.30" stroke="#111" stroke-width="1.1"/>
<line x1="217.70" y1="251.60" x2="217.70" y2="254.30" stroke="#111" stroke-width="1.1"/>
<line x1="58.00" y1="205.60" x2="58.00" y2="208.10" stroke="#333" stroke-width="0.8"/>
<line x1="61.00" y1="206.93" x2="61.00" y2="209.43" stroke="#333" stroke-width="0.8"/>
<line x1="64.00" y1="209.02" x2="64.00" y2="211.52" stroke="#333" stroke-width="0.8"/>
<line x1="72.00" y1="215.60" x2="72.00" y2="218.10" stroke="#333" stroke-width="0.8"/>
<line x1="80.00" y1="219.90" x2="80.00" y2="222.40" stroke="#333" stroke-width="0.8"/>
<line x1="84.00" y1="219.90" x2="84.00" y2="222.40" stroke="#333" stroke-width="0.8"/>
<line x1="97.00" y1="226.00" x2="97.00" y2="228.50" stroke="#333" stroke-width="0.8"/>
<line x1="100.00" y1="227.70" x2="100.00" y2="230.20" stroke="#333" stroke-width="0.8"/>
<line x1="108.00" y1="234.60" x2="108.00" y2="237.10" stroke="#333" stroke-width="0.8"/>
<line x1="110.00" y1="234.60" x2="110.00" y2="237.10" stroke="#333" stroke-width="0.8"/>
<line x1="133.00" y1="250.80" x2="133.00" y2="253.30" stroke="#333" stroke-width="0.8"/>
<line x1="136.00" y1="255.60" x2="136.00" y2="258.10" stroke="#333" stroke-width="0.8"/>
<line x1="148.70" y1="263.50" x2="148.70" y2="266.00" stroke="#333" stroke-width="0.8"/>
<line x1="152.70" y1="263.50" x2="152.70" y2="266.00" stroke="#333" stroke-width="0.8"/>
<line x1="159.60" y1="267.40" x2="159.60" y2="269.90" stroke="#333" stroke-width="0.8"/>
<line x1="161.60" y1="267.40" x2="161.60" y2="269.90" stroke="#333" stroke-width="0.8"/>
<line x1="164.20" y1="267.40" x2="164.20" y2="269.90" stroke="#333" stroke-width="0.8"/>
<line x1="174.60" y1="267.40" x2="174.60" y2="269.90" stroke="#333" stroke-width="0.8"/>
<line x1="179.00" y1="267.40" x2="179.00" y2="269.90" stroke="#333" stroke-width="0.8"/>
<line x1="204.80" y1="277.30" x2="204.80" y2="279.80" stroke="#333" stroke-width="0.8"/>
<line x1="212.30" y1="277.30" x2="212.30" y2="279.80" stroke="#333" stroke-width="0.8"/>
<line x1="217.20" y1="277.30" x2="217.20" y2="279.80" stroke="#333" stroke-width="0.8"/>
<text x="17.40" y="200.40" font-size="10.2" text-anchor="start" font-weight="bold" fill="#000" stroke="#000" stroke-width="0.05" >C</text>
<line x1="52" y1="201.7" x2="52" y2="311.3" stroke="#1e1e1e" stroke-width="1.5"/>
<line x1="51.4" y1="311.3" x2="235" y2="311.3" stroke="#1e1e1e" stroke-width="1.5"/>
<line x1="49" y1="207.10" x2="52" y2="207.10" stroke="#1e1e1e" stroke-width="1"/>
<text x="45.60" y="209.90" font-size="7.8" text-anchor="end" font-weight="normal" fill="#231f20" stroke="#231f20" stroke-width="0.05" >1.00</text>
<line x1="49" y1="232.22" x2="52" y2="232.22" stroke="#1e1e1e" stroke-width="1"/>
<text x="45.60" y="235.03" font-size="7.8" text-anchor="end" font-weight="normal" fill="#231f20" stroke="#231f20" stroke-width="0.05" >0.75</text>
<line x1="49" y1="257.35" x2="52" y2="257.35" stroke="#1e1e1e" stroke-width="1"/>
<text x="45.60" y="260.15" font-size="7.8" text-anchor="end" font-weight="normal" fill="#231f20" stroke="#231f20" stroke-width="0.05" >0.50</text>
<line x1="49" y1="282.48" x2="52" y2="282.48" stroke="#1e1e1e" stroke-width="1"/>
<text x="45.60" y="285.28" font-size="7.8" text-anchor="end" font-weight="normal" fill="#231f20" stroke="#231f20" stroke-width="0.05" >0.25</text>
<line x1="49" y1="307.60" x2="52" y2="307.60" stroke="#1e1e1e" stroke-width="1"/>
<text x="45.60" y="310.40" font-size="7.8" text-anchor="end" font-weight="normal" fill="#231f20" stroke="#231f20" stroke-width="0.05" >0.00</text>
<line x1="55.50" y1="311.3" x2="55.50" y2="314.3" stroke="#1e1e1e" stroke-width="1"/>
<text x="55.50" y="324.60" font-size="8.0" text-anchor="middle" font-weight="normal" fill="#231f20" stroke="#231f20" stroke-width="0.05" >0</text>
<line x1="75.03" y1="311.3" x2="75.03" y2="314.3" stroke="#1e1e1e" stroke-width="1"/>
<text x="75.03" y="324.60" font-size="8.0" text-anchor="middle" font-weight="normal" fill="#231f20" stroke="#231f20" stroke-width="0.05" >1</text>
<line x1="94.57" y1="311.3" x2="94.57" y2="314.3" stroke="#1e1e1e" stroke-width="1"/>
<text x="94.57" y="324.60" font-size="8.0" text-anchor="middle" font-weight="normal" fill="#231f20" stroke="#231f20" stroke-width="0.05" >2</text>
<line x1="114.10" y1="311.3" x2="114.10" y2="314.3" stroke="#1e1e1e" stroke-width="1"/>
<text x="114.10" y="324.60" font-size="8.0" text-anchor="middle" font-weight="normal" fill="#231f20" stroke="#231f20" stroke-width="0.05" >3</text>
<line x1="133.63" y1="311.3" x2="133.63" y2="314.3" stroke="#1e1e1e" stroke-width="1"/>
<text x="133.63" y="324.60" font-size="8.0" text-anchor="middle" font-weight="normal" fill="#231f20" stroke="#231f20" stroke-width="0.05" >4</text>
<line x1="153.17" y1="311.3" x2="153.17" y2="314.3" stroke="#1e1e1e" stroke-width="1"/>
<text x="153.17" y="324.60" font-size="8.0" text-anchor="middle" font-weight="normal" fill="#231f20" stroke="#231f20" stroke-width="0.05" >5</text>
<line x1="172.70" y1="311.3" x2="172.70" y2="314.3" stroke="#1e1e1e" stroke-width="1"/>
<text x="172.70" y="324.60" font-size="8.0" text-anchor="middle" font-weight="normal" fill="#231f20" stroke="#231f20" stroke-width="0.05" >6</text>
<line x1="192.23" y1="311.3" x2="192.23" y2="314.3" stroke="#1e1e1e" stroke-width="1"/>
<text x="192.23" y="324.60" font-size="8.0" text-anchor="middle" font-weight="normal" fill="#231f20" stroke="#231f20" stroke-width="0.05" >7</text>
<line x1="211.77" y1="311.3" x2="211.77" y2="314.3" stroke="#1e1e1e" stroke-width="1"/>
<text x="211.77" y="324.60" font-size="8.0" text-anchor="middle" font-weight="normal" fill="#231f20" stroke="#231f20" stroke-width="0.05" >8</text>
<line x1="231.30" y1="311.3" x2="231.30" y2="314.3" stroke="#1e1e1e" stroke-width="1"/>
<text x="231.30" y="324.60" font-size="8.0" text-anchor="middle" font-weight="normal" fill="#231f20" stroke="#231f20" stroke-width="0.05" >9</text>
<text transform="translate(24.2,254.3) rotate(-90)" x="0" y="0" font-size="8.8" text-anchor="middle" fill="#231f20" stroke="#231f20" stroke-width="0.2" textLength="43.5" lengthAdjust="spacingAndGlyphs">PFS probability</text>
<text x="180.00" y="220.90" font-size="7" text-anchor="start" font-weight="normal" fill="#231f20" stroke="#231f20" stroke-width="0.05" >Log-rank p&lt;0.001</text>
<text x="103.5" y="333.1" font-size="9.2" font-weight="normal" fill="#231f20" stroke="#231f20" stroke-width="0.22" textLength="81.5" lengthAdjust="spacingAndGlyphs">Years from ibrutinib initiation</text>
<text x="7.50" y="337.20" font-size="6.8" text-anchor="start" font-weight="normal" fill="#231f20" stroke="#231f20" stroke-width="0.05" >Number at risk</text>
<text x="49.20" y="343.80" font-size="6.3" text-anchor="end" font-weight="normal" fill="#231f20" stroke="#231f20" stroke-width="0.05" >CXCR4 WT</text>
<text x="49.20" y="350.90" font-size="6.3" text-anchor="end" font-weight="normal" fill="#231f20" stroke="#231f20" stroke-width="0.05" >CXCR4 MUT</text>
<text x="55.50" y="343.80" font-size="6.3" text-anchor="middle" font-weight="normal" fill="#231f20" stroke="#231f20" stroke-width="0.05" >155</text>
<text x="75.03" y="343.80" font-size="6.3" text-anchor="middle" font-weight="normal" fill="#231f20" stroke="#231f20" stroke-width="0.05" >114</text>
<text x="94.57" y="343.80" font-size="6.3" text-anchor="middle" font-weight="normal" fill="#231f20" stroke="#231f20" stroke-width="0.05" >96</text>
<text x="114.10" y="343.80" font-size="6.3" text-anchor="middle" font-weight="normal" fill="#231f20" stroke="#231f20" stroke-width="0.05" >73</text>
<text x="133.63" y="343.80" font-size="6.3" text-anchor="middle" font-weight="normal" fill="#231f20" stroke="#231f20" stroke-width="0.05" >53</text>
<text x="153.17" y="343.80" font-size="6.3" text-anchor="middle" font-weight="normal" fill="#231f20" stroke="#231f20" stroke-width="0.05" >33</text>
<text x="172.70" y="343.80" font-size="6.3" text-anchor="middle" font-weight="normal" fill="#231f20" stroke="#231f20" stroke-width="0.05" >25</text>
<text x="192.23" y="343.80" font-size="6.3" text-anchor="middle" font-weight="normal" fill="#231f20" stroke="#231f20" stroke-width="0.05" >13</text>
<text x="211.77" y="343.80" font-size="6.3" text-anchor="middle" font-weight="normal" fill="#231f20" stroke="#231f20" stroke-width="0.05" >3</text>
<text x="231.30" y="343.80" font-size="6.3" text-anchor="middle" font-weight="normal" fill="#231f20" stroke="#231f20" stroke-width="0.05" >0</text>
<text x="55.50" y="350.90" font-size="6.3" text-anchor="middle" font-weight="normal" fill="#231f20" stroke="#231f20" stroke-width="0.05" >89</text>
<text x="75.03" y="350.90" font-size="6.3" text-anchor="middle" font-weight="normal" fill="#231f20" stroke="#231f20" stroke-width="0.05" >60</text>
<text x="94.57" y="350.90" font-size="6.3" text-anchor="middle" font-weight="normal" fill="#231f20" stroke="#231f20" stroke-width="0.05" >45</text>
<text x="114.10" y="350.90" font-size="6.3" text-anchor="middle" font-weight="normal" fill="#231f20" stroke="#231f20" stroke-width="0.05" >32</text>
<text x="133.63" y="350.90" font-size="6.3" text-anchor="middle" font-weight="normal" fill="#231f20" stroke="#231f20" stroke-width="0.05" >19</text>
<text x="153.17" y="350.90" font-size="6.3" text-anchor="middle" font-weight="normal" fill="#231f20" stroke="#231f20" stroke-width="0.05" >9</text>
<text x="172.70" y="350.90" font-size="6.3" text-anchor="middle" font-weight="normal" fill="#231f20" stroke="#231f20" stroke-width="0.05" >6</text>
<text x="192.23" y="350.90" font-size="6.3" text-anchor="middle" font-weight="normal" fill="#231f20" stroke="#231f20" stroke-width="0.05" >3</text>
<text x="211.77" y="350.90" font-size="6.3" text-anchor="middle" font-weight="normal" fill="#231f20" stroke="#231f20" stroke-width="0.05" >1</text>
<text x="231.30" y="350.90" font-size="6.3" text-anchor="middle" font-weight="normal" fill="#231f20" stroke="#231f20" stroke-width="0.05" >0</text>
<line x1="77.5" y1="360.5" x2="98.75" y2="360.5" stroke="#c8163f" stroke-width="1.5"/>
<text x="103.00" y="362.40" font-size="7" text-anchor="start" font-weight="normal" fill="#231f20" stroke="#231f20" stroke-width="0.05" >CXCR4 WT</text>
<line x1="147.7" y1="360.5" x2="169.2" y2="360.5" stroke="#2e6598" stroke-width="1.5"/>
<text x="172.90" y="362.40" font-size="7" text-anchor="start" font-weight="normal" fill="#231f20" stroke="#231f20" stroke-width="0.05" >CXCR4 MUT</text>
<polyline points="334.00,206.50 341.20,206.50 341.20,222.30 346.50,222.30 346.50,227.40 352.70,227.40 352.70,233.00 371.40,233.00 371.40,242.00 374.40,242.00 374.40,250.40 397.30,250.40 397.30,262.60 418.70,262.60 418.70,282.30 437.30,282.30" fill="none" stroke="#3cb44a" stroke-width="1.6" stroke-linejoin="miter"/>
<polyline points="334.00,208.10 339.40,209.40 344.80,212.10 347.50,214.80 354.20,215.50 355.60,218.80 364.30,218.80 367.00,220.80 369.70,224.20 375.80,224.90 377.80,228.20 380.50,230.30 387.20,230.30 389.20,232.30 392.60,235.00 397.90,235.00 397.90,237.30 401.50,237.30 401.50,239.50 402.90,239.50 402.90,241.60 405.10,241.60 405.10,244.50 406.50,244.50 406.50,246.60 409.40,246.60 409.40,248.00 412.30,248.00 412.30,250.80 425.50,250.80 426.20,255.40 430.00,255.40 431.00,259.40 465.50,259.40 465.50,267.80 495.20,267.80" fill="none" stroke="#2e6598" stroke-width="1.6" stroke-linejoin="miter"/>
<polyline points="334.00,207.20 340.80,208.10 346.20,211.40 350.20,213.40 354.20,213.80 367.70,214.80 378.50,216.10 389.20,218.20 398.80,219.90 401.50,219.90 403.70,221.40 407.30,224.30 422.40,224.30 423.90,225.70 427.50,225.70 428.90,232.90 450.60,232.90 452.00,235.10 453.40,238.70 460.70,238.70 462.80,242.30 463.50,245.20 467.20,245.20 468.60,250.00 495.20,250.00" fill="none" stroke="#c8163f" stroke-width="1.6" stroke-linejoin="miter"/>
<line x1="335.00" y1="205.43" x2="335.00" y2="208.13" stroke="#111" stroke-width="1.1"/>
<line x1="336.99" y1="205.70" x2="336.99" y2="208.40" stroke="#111" stroke-width="1.1"/>
<line x1="338.62" y1="205.91" x2="338.62" y2="208.61" stroke="#111" stroke-width="1.1"/>
<line x1="341.04" y1="206.34" x2="341.04" y2="209.04" stroke="#111" stroke-width="1.1"/>
<line x1="342.80" y1="207.42" x2="342.80" y2="210.12" stroke="#111" stroke-width="1.1"/>
<line x1="344.33" y1="208.36" x2="344.33" y2="211.06" stroke="#111" stroke-width="1.1"/>
<line x1="346.77" y1="209.78" x2="346.77" y2="212.48" stroke="#111" stroke-width="1.1"/>
<line x1="350.60" y1="211.54" x2="350.60" y2="214.24" stroke="#111" stroke-width="1.1"/>
<line x1="354.11" y1="211.89" x2="354.11" y2="214.59" stroke="#111" stroke-width="1.1"/>
<line x1="357.52" y1="212.15" x2="357.52" y2="214.85" stroke="#111" stroke-width="1.1"/>
<line x1="359.47" y1="212.29" x2="359.47" y2="214.99" stroke="#111" stroke-width="1.1"/>
<line x1="362.27" y1="212.50" x2="362.27" y2="215.20" stroke="#111" stroke-width="1.1"/>
<line x1="364.37" y1="212.65" x2="364.37" y2="215.35" stroke="#111" stroke-width="1.1"/>
<line x1="366.18" y1="212.79" x2="366.18" y2="215.49" stroke="#111" stroke-width="1.1"/>
<line x1="367.82" y1="212.91" x2="367.82" y2="215.61" stroke="#111" stroke-width="1.1"/>
<line x1="369.75" y1="213.15" x2="369.75" y2="215.85" stroke="#111" stroke-width="1.1"/>
<line x1="373.60" y1="213.61" x2="373.60" y2="216.31" stroke="#111" stroke-width="1.1"/>
<line x1="377.19" y1="214.04" x2="377.19" y2="216.74" stroke="#111" stroke-width="1.1"/>
<line x1="380.72" y1="214.64" x2="380.72" y2="217.34" stroke="#111" stroke-width="1.1"/>
<line x1="384.23" y1="215.32" x2="384.23" y2="218.02" stroke="#111" stroke-width="1.1"/>
<line x1="386.10" y1="215.69" x2="386.10" y2="218.39" stroke="#111" stroke-width="1.1"/>
<line x1="388.29" y1="216.12" x2="388.29" y2="218.82" stroke="#111" stroke-width="1.1"/>
<line x1="391.33" y1="216.68" x2="391.33" y2="219.38" stroke="#111" stroke-width="1.1"/>
<line x1="394.66" y1="217.27" x2="394.66" y2="219.97" stroke="#111" stroke-width="1.1"/>
<line x1="398.32" y1="217.91" x2="398.32" y2="220.61" stroke="#111" stroke-width="1.1"/>
<line x1="405.00" y1="220.55" x2="405.00" y2="223.25" stroke="#111" stroke-width="1.1"/>
<line x1="418.00" y1="222.40" x2="418.00" y2="225.10" stroke="#111" stroke-width="1.1"/>
<line x1="421.00" y1="222.40" x2="421.00" y2="225.10" stroke="#111" stroke-width="1.1"/>
<line x1="433.00" y1="231.00" x2="433.00" y2="233.70" stroke="#111" stroke-width="1.1"/>
<line x1="437.00" y1="231.00" x2="437.00" y2="233.70" stroke="#111" stroke-width="1.1"/>
<line x1="456.00" y1="236.80" x2="456.00" y2="239.50" stroke="#111" stroke-width="1.1"/>
<line x1="459.00" y1="236.80" x2="459.00" y2="239.50" stroke="#111" stroke-width="1.1"/>
<line x1="465.00" y1="243.30" x2="465.00" y2="246.00" stroke="#111" stroke-width="1.1"/>
<line x1="474.00" y1="248.10" x2="474.00" y2="250.80" stroke="#111" stroke-width="1.1"/>
<line x1="482.00" y1="248.10" x2="482.00" y2="250.80" stroke="#111" stroke-width="1.1"/>
<line x1="486.00" y1="248.10" x2="486.00" y2="250.80" stroke="#111" stroke-width="1.1"/>
<line x1="488.70" y1="248.10" x2="488.70" y2="250.80" stroke="#111" stroke-width="1.1"/>
<line x1="490.60" y1="248.10" x2="490.60" y2="250.80" stroke="#111" stroke-width="1.1"/>
<line x1="493.50" y1="248.10" x2="493.50" y2="250.80" stroke="#111" stroke-width="1.1"/>
<line x1="335.40" y1="206.74" x2="335.40" y2="209.24" stroke="#333" stroke-width="0.8"/>
<line x1="350.00" y1="213.36" x2="350.00" y2="215.86" stroke="#333" stroke-width="0.8"/>
<line x1="357.60" y1="217.10" x2="357.60" y2="219.60" stroke="#333" stroke-width="0.8"/>
<line x1="360.30" y1="217.10" x2="360.30" y2="219.60" stroke="#333" stroke-width="0.8"/>
<line x1="370.40" y1="222.58" x2="370.40" y2="225.08" stroke="#333" stroke-width="0.8"/>
<line x1="375.00" y1="223.11" x2="375.00" y2="225.61" stroke="#333" stroke-width="0.8"/>
<line x1="378.50" y1="227.04" x2="378.50" y2="229.54" stroke="#333" stroke-width="0.8"/>
<line x1="384.50" y1="228.60" x2="384.50" y2="231.10" stroke="#333" stroke-width="0.8"/>
<line x1="387.20" y1="228.60" x2="387.20" y2="231.10" stroke="#333" stroke-width="0.8"/>
<line x1="392.00" y1="232.82" x2="392.00" y2="235.32" stroke="#333" stroke-width="0.8"/>
<line x1="399.00" y1="235.60" x2="399.00" y2="238.10" stroke="#333" stroke-width="0.8"/>
<line x1="410.00" y1="246.30" x2="410.00" y2="248.80" stroke="#333" stroke-width="0.8"/>
<line x1="439.60" y1="257.70" x2="439.60" y2="260.20" stroke="#333" stroke-width="0.8"/>
<line x1="441.90" y1="257.70" x2="441.90" y2="260.20" stroke="#333" stroke-width="0.8"/>
<line x1="452.70" y1="257.70" x2="452.70" y2="260.20" stroke="#333" stroke-width="0.8"/>
<line x1="456.00" y1="257.70" x2="456.00" y2="260.20" stroke="#333" stroke-width="0.8"/>
<line x1="478.00" y1="266.10" x2="478.00" y2="268.60" stroke="#333" stroke-width="0.8"/>
<line x1="482.00" y1="266.10" x2="482.00" y2="268.60" stroke="#333" stroke-width="0.8"/>
<line x1="489.60" y1="266.10" x2="489.60" y2="268.60" stroke="#333" stroke-width="0.8"/>
<line x1="494.40" y1="266.10" x2="494.40" y2="268.60" stroke="#333" stroke-width="0.8"/>
<line x1="341.40" y1="220.60" x2="341.40" y2="223.10" stroke="#333" stroke-width="0.8"/>
<line x1="352.90" y1="231.30" x2="352.90" y2="233.80" stroke="#333" stroke-width="0.8"/>
<line x1="357.00" y1="231.30" x2="357.00" y2="233.80" stroke="#333" stroke-width="0.8"/>
<line x1="360.30" y1="231.30" x2="360.30" y2="233.80" stroke="#333" stroke-width="0.8"/>
<line x1="376.00" y1="248.70" x2="376.00" y2="251.20" stroke="#333" stroke-width="0.8"/>
<line x1="388.00" y1="248.70" x2="388.00" y2="251.20" stroke="#333" stroke-width="0.8"/>
<line x1="417.00" y1="260.90" x2="417.00" y2="263.40" stroke="#333" stroke-width="0.8"/>
<line x1="436.50" y1="280.60" x2="436.50" y2="283.10" stroke="#333" stroke-width="0.8"/>
<text x="293.30" y="200.90" font-size="10.2" text-anchor="start" font-weight="bold" fill="#000" stroke="#000" stroke-width="0.05" >D</text>
<line x1="329.5" y1="200.5" x2="329.5" y2="304.7" stroke="#1e1e1e" stroke-width="1.5"/>
<line x1="328.9" y1="304.7" x2="513" y2="304.7" stroke="#1e1e1e" stroke-width="1.5"/>
<line x1="326.5" y1="206.50" x2="329.5" y2="206.50" stroke="#1e1e1e" stroke-width="1"/>
<text x="323.20" y="209.30" font-size="7.8" text-anchor="end" font-weight="normal" fill="#231f20" stroke="#231f20" stroke-width="0.05" >1.00</text>
<line x1="326.5" y1="230.15" x2="329.5" y2="230.15" stroke="#1e1e1e" stroke-width="1"/>
<text x="323.20" y="232.95" font-size="7.8" text-anchor="end" font-weight="normal" fill="#231f20" stroke="#231f20" stroke-width="0.05" >0.75</text>
<line x1="326.5" y1="253.80" x2="329.5" y2="253.80" stroke="#1e1e1e" stroke-width="1"/>
<text x="323.20" y="256.60" font-size="7.8" text-anchor="end" font-weight="normal" fill="#231f20" stroke="#231f20" stroke-width="0.05" >0.50</text>
<line x1="326.5" y1="277.45" x2="329.5" y2="277.45" stroke="#1e1e1e" stroke-width="1"/>
<text x="323.20" y="280.25" font-size="7.8" text-anchor="end" font-weight="normal" fill="#231f20" stroke="#231f20" stroke-width="0.05" >0.25</text>
<line x1="326.5" y1="301.10" x2="329.5" y2="301.10" stroke="#1e1e1e" stroke-width="1"/>
<text x="323.20" y="303.90" font-size="7.8" text-anchor="end" font-weight="normal" fill="#231f20" stroke="#231f20" stroke-width="0.05" >0.00</text>
<line x1="333.40" y1="304.7" x2="333.40" y2="307.7" stroke="#1e1e1e" stroke-width="1"/>
<text x="333.40" y="316.00" font-size="8.0" text-anchor="middle" font-weight="normal" fill="#231f20" stroke="#231f20" stroke-width="0.05" >0</text>
<line x1="352.91" y1="304.7" x2="352.91" y2="307.7" stroke="#1e1e1e" stroke-width="1"/>
<text x="352.91" y="316.00" font-size="8.0" text-anchor="middle" font-weight="normal" fill="#231f20" stroke="#231f20" stroke-width="0.05" >1</text>
<line x1="372.42" y1="304.7" x2="372.42" y2="307.7" stroke="#1e1e1e" stroke-width="1"/>
<text x="372.42" y="316.00" font-size="8.0" text-anchor="middle" font-weight="normal" fill="#231f20" stroke="#231f20" stroke-width="0.05" >2</text>
<line x1="391.93" y1="304.7" x2="391.93" y2="307.7" stroke="#1e1e1e" stroke-width="1"/>
<text x="391.93" y="316.00" font-size="8.0" text-anchor="middle" font-weight="normal" fill="#231f20" stroke="#231f20" stroke-width="0.05" >3</text>
<line x1="411.44" y1="304.7" x2="411.44" y2="307.7" stroke="#1e1e1e" stroke-width="1"/>
<text x="411.44" y="316.00" font-size="8.0" text-anchor="middle" font-weight="normal" fill="#231f20" stroke="#231f20" stroke-width="0.05" >4</text>
<line x1="430.96" y1="304.7" x2="430.96" y2="307.7" stroke="#1e1e1e" stroke-width="1"/>
<text x="430.96" y="316.00" font-size="8.0" text-anchor="middle" font-weight="normal" fill="#231f20" stroke="#231f20" stroke-width="0.05" >5</text>
<line x1="450.47" y1="304.7" x2="450.47" y2="307.7" stroke="#1e1e1e" stroke-width="1"/>
<text x="450.47" y="316.00" font-size="8.0" text-anchor="middle" font-weight="normal" fill="#231f20" stroke="#231f20" stroke-width="0.05" >6</text>
<line x1="469.98" y1="304.7" x2="469.98" y2="307.7" stroke="#1e1e1e" stroke-width="1"/>
<text x="469.98" y="316.00" font-size="8.0" text-anchor="middle" font-weight="normal" fill="#231f20" stroke="#231f20" stroke-width="0.05" >7</text>
<line x1="489.49" y1="304.7" x2="489.49" y2="307.7" stroke="#1e1e1e" stroke-width="1"/>
<text x="489.49" y="316.00" font-size="8.0" text-anchor="middle" font-weight="normal" fill="#231f20" stroke="#231f20" stroke-width="0.05" >8</text>
<line x1="509.00" y1="304.7" x2="509.00" y2="307.7" stroke="#1e1e1e" stroke-width="1"/>
<text x="509.00" y="316.00" font-size="8.0" text-anchor="middle" font-weight="normal" fill="#231f20" stroke="#231f20" stroke-width="0.05" >9</text>
<text transform="translate(301.4,254) rotate(-90)" x="0" y="0" font-size="8.8" text-anchor="middle" fill="#231f20" stroke="#231f20" stroke-width="0.2" textLength="43.5" lengthAdjust="spacingAndGlyphs">PFS probability</text>
<text x="458.00" y="220.50" font-size="7" text-anchor="start" font-weight="normal" fill="#231f20" stroke="#231f20" stroke-width="0.05" >Log-rank p&lt;0.001</text>
<text x="381" y="326.6" font-size="9.2" font-weight="normal" fill="#231f20" stroke="#231f20" stroke-width="0.22" textLength="81.5" lengthAdjust="spacingAndGlyphs">Years from ibrutinib initiation</text>
<text x="286.25" y="330.00" font-size="6.8" text-anchor="start" font-weight="normal" fill="#231f20" stroke="#231f20" stroke-width="0.05" >Number at risk</text>
<text x="324.80" y="337.00" font-size="6.3" text-anchor="end" font-weight="normal" fill="#231f20" stroke="#231f20" stroke-width="0.05" >Low</text>
<text x="324.80" y="344.00" font-size="6.3" text-anchor="end" font-weight="normal" fill="#231f20" stroke="#231f20" stroke-width="0.05" textLength="32" lengthAdjust="spacingAndGlyphs">Intermediate</text>
<text x="324.80" y="350.80" font-size="6.3" text-anchor="end" font-weight="normal" fill="#231f20" stroke="#231f20" stroke-width="0.05" >High</text>
<text x="333.40" y="337.10" font-size="6.3" text-anchor="middle" font-weight="normal" fill="#231f20" stroke="#231f20" stroke-width="0.05" >144</text>
<text x="352.91" y="337.10" font-size="6.3" text-anchor="middle" font-weight="normal" fill="#231f20" stroke="#231f20" stroke-width="0.05" >108</text>
<text x="372.42" y="337.10" font-size="6.3" text-anchor="middle" font-weight="normal" fill="#231f20" stroke="#231f20" stroke-width="0.05" >94</text>
<text x="391.93" y="337.10" font-size="6.3" text-anchor="middle" font-weight="normal" fill="#231f20" stroke="#231f20" stroke-width="0.05" >72</text>
<text x="411.44" y="337.10" font-size="6.3" text-anchor="middle" font-weight="normal" fill="#231f20" stroke="#231f20" stroke-width="0.05" >52</text>
<text x="430.96" y="337.10" font-size="6.3" text-anchor="middle" font-weight="normal" fill="#231f20" stroke="#231f20" stroke-width="0.05" >32</text>
<text x="450.47" y="337.10" font-size="6.3" text-anchor="middle" font-weight="normal" fill="#231f20" stroke="#231f20" stroke-width="0.05" >24</text>
<text x="469.98" y="337.10" font-size="6.3" text-anchor="middle" font-weight="normal" fill="#231f20" stroke="#231f20" stroke-width="0.05" >12</text>
<text x="489.49" y="337.10" font-size="6.3" text-anchor="middle" font-weight="normal" fill="#231f20" stroke="#231f20" stroke-width="0.05" >3</text>
<text x="509.00" y="337.10" font-size="6.3" text-anchor="middle" font-weight="normal" fill="#231f20" stroke="#231f20" stroke-width="0.05" >0</text>
<text x="333.40" y="344.00" font-size="6.3" text-anchor="middle" font-weight="normal" fill="#231f20" stroke="#231f20" stroke-width="0.05" >76</text>
<text x="352.91" y="344.00" font-size="6.3" text-anchor="middle" font-weight="normal" fill="#231f20" stroke="#231f20" stroke-width="0.05" >53</text>
<text x="372.42" y="344.00" font-size="6.3" text-anchor="middle" font-weight="normal" fill="#231f20" stroke="#231f20" stroke-width="0.05" >40</text>
<text x="391.93" y="344.00" font-size="6.3" text-anchor="middle" font-weight="normal" fill="#231f20" stroke="#231f20" stroke-width="0.05" >28</text>
<text x="411.44" y="344.00" font-size="6.3" text-anchor="middle" font-weight="normal" fill="#231f20" stroke="#231f20" stroke-width="0.05" >17</text>
<text x="430.96" y="344.00" font-size="6.3" text-anchor="middle" font-weight="normal" fill="#231f20" stroke="#231f20" stroke-width="0.05" >9</text>
<text x="450.47" y="344.00" font-size="6.3" text-anchor="middle" font-weight="normal" fill="#231f20" stroke="#231f20" stroke-width="0.05" >7</text>
<text x="469.98" y="344.00" font-size="6.3" text-anchor="middle" font-weight="normal" fill="#231f20" stroke="#231f20" stroke-width="0.05" >4</text>
<text x="489.49" y="344.00" font-size="6.3" text-anchor="middle" font-weight="normal" fill="#231f20" stroke="#231f20" stroke-width="0.05" >1</text>
<text x="509.00" y="344.00" font-size="6.3" text-anchor="middle" font-weight="normal" fill="#231f20" stroke="#231f20" stroke-width="0.05" >0</text>
<text x="333.40" y="350.80" font-size="6.3" text-anchor="middle" font-weight="normal" fill="#231f20" stroke="#231f20" stroke-width="0.05" >21</text>
<text x="352.91" y="350.80" font-size="6.3" text-anchor="middle" font-weight="normal" fill="#231f20" stroke="#231f20" stroke-width="0.05" >12</text>
<text x="372.42" y="350.80" font-size="6.3" text-anchor="middle" font-weight="normal" fill="#231f20" stroke="#231f20" stroke-width="0.05" >7</text>
<text x="391.93" y="350.80" font-size="6.3" text-anchor="middle" font-weight="normal" fill="#231f20" stroke="#231f20" stroke-width="0.05" >5</text>
<text x="411.44" y="350.80" font-size="6.3" text-anchor="middle" font-weight="normal" fill="#231f20" stroke="#231f20" stroke-width="0.05" >3</text>
<text x="430.96" y="350.80" font-size="6.3" text-anchor="middle" font-weight="normal" fill="#231f20" stroke="#231f20" stroke-width="0.05" >1</text>
<text x="450.47" y="350.80" font-size="6.3" text-anchor="middle" font-weight="normal" fill="#231f20" stroke="#231f20" stroke-width="0.05" >0</text>
<text x="469.98" y="350.80" font-size="6.3" text-anchor="middle" font-weight="normal" fill="#231f20" stroke="#231f20" stroke-width="0.05" >0</text>
<text x="489.49" y="350.80" font-size="6.3" text-anchor="middle" font-weight="normal" fill="#231f20" stroke="#231f20" stroke-width="0.05" >0</text>
<text x="509.00" y="350.80" font-size="6.3" text-anchor="middle" font-weight="normal" fill="#231f20" stroke="#231f20" stroke-width="0.05" >0</text>
<line x1="343.25" y1="360.7" x2="365" y2="360.7" stroke="#c8163f" stroke-width="1.5"/>
<text x="368.75" y="363.10" font-size="7" text-anchor="start" font-weight="normal" fill="#231f20" stroke="#231f20" stroke-width="0.05" >Low</text>
<line x1="386.7" y1="360.5" x2="408.3" y2="360.5" stroke="#2e6598" stroke-width="1.5"/>
<text x="411.80" y="363.10" font-size="6.9" text-anchor="start" font-weight="normal" fill="#231f20" stroke="#231f20" stroke-width="0.05" >Intermediate</text>
<line x1="455.4" y1="360.5" x2="476.4" y2="360.5" stroke="#3cb44a" stroke-width="1.5"/>
<text x="480.40" y="363.10" font-size="7" text-anchor="start" font-weight="normal" fill="#231f20" stroke="#231f20" stroke-width="0.05" >High</text>
<rect x="0.5" y="0.5" width="519" height="370" fill="none" stroke="#000" stroke-width="1"/>
</svg></body></html>
